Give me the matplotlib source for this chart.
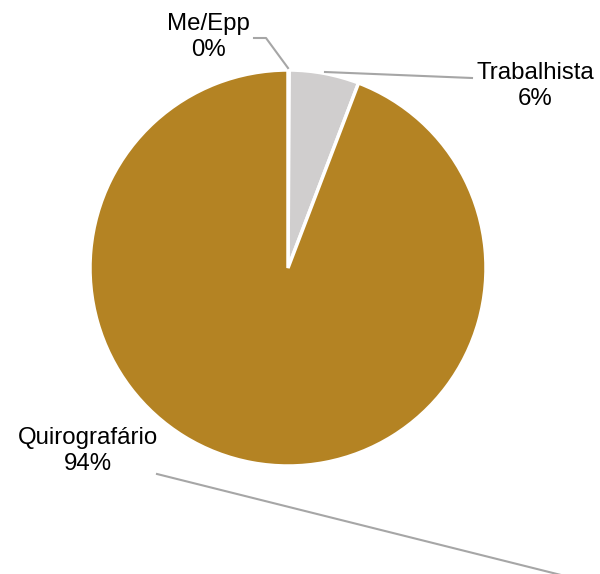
import matplotlib
matplotlib.use("Agg")
import matplotlib.pyplot as plt

plt.rcParams['font.family'] = ['Liberation Sans', 'DejaVu Sans']

labels = ['Me/Epp', 'Trabalhista', 'Quirografário']
values = [0.1, 5.7, 94.2]
colors = ['#D0CECE', '#D0CECE', '#B48323']

total = sum(values)
pcts = ['%d%%' % round(v / total * 100) for v in values]

W, H = 600, 574

fig = plt.figure(figsize=(6.0, 5.74), dpi=100)
ax = fig.add_axes([0, 0, 1, 1])

# pie in pixel-like coords, y measured from the top
ax.pie(values, colors=colors, startangle=90, counterclock=False,
       center=(288, H - 268), radius=198,
       wedgeprops=dict(edgecolor='white', linewidth=2.5))
ax.set_xlim(0, W)
ax.set_ylim(0, H)
ax.set_aspect('equal')
ax.axis('off')

# label positions and leader lines (x, y from top)
label_pos = [(208, 37), (535, 86), (88, 451)]
leaders = [
    [(254, 38), (266, 38), (288, 68)],
    [(325, 72), (472, 78)],
    [(157, 474), (565, 576)],
]

for (lab, pct, (x, y), pts) in zip(labels, pcts, label_pos, leaders):
    ax.text(x, H - y, lab + '\n' + pct, ha='center', va='center',
            fontsize=17.3, linespacing=1.2, color='black')
    xs = [p[0] for p in pts]
    ys = [H - p[1] for p in pts]
    ax.plot(xs, ys, color='#A6A6A6', lw=1.5, clip_on=False)

fig.savefig('out.png', dpi=100)
